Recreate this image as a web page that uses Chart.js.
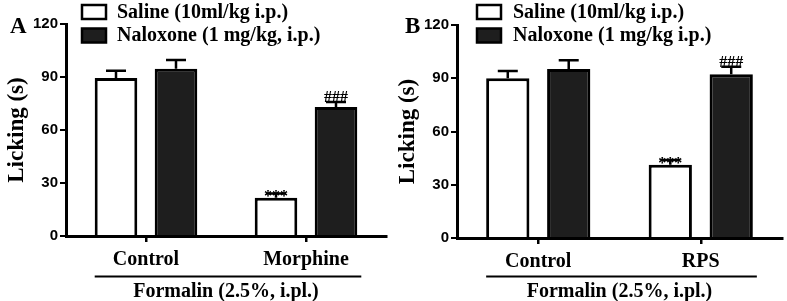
<!DOCTYPE html>
<html>
<head>
<meta charset="utf-8">
<script src="https://cdn.jsdelivr.net/npm/chart.js@4"></script>
<style>
body { margin: 0; background: #fff; width: 787px; height: 301px; overflow: hidden; position: relative; }
canvas { position: absolute; top: 0; }
</style>
</head>
<body>
<canvas id="chartA" width="393" height="301" style="left:0"></canvas>
<canvas id="chartB" width="396" height="301" style="left:391px"></canvas>
<script>
// values (licking time, s)
const yTicks = [0, 30, 60, 90, 120]

const categoriesA = ['Control', 'Morphine']
const salineA = [89.4, 21.7]
const salineErrA = [4.2, 2.4]
const naloxoneA = [94.7, 73.0]
const naloxoneErrA = [4.9, 2.8]
const salineMarksA = ['', '***']
const naloxoneMarksA = ['', '###']

const categoriesB = ['Control', 'RPS']
const salineB = [90.0, 41.2]
const salineErrB = [4.1, 2.8]
const naloxoneB = [95.2, 92.2]
const naloxoneErrB = [4.9, 4.3]
const salineMarksB = ['', '***']
const naloxoneMarksB = ['', '###']

const salineLabel = 'Saline (10ml/kg i.p.)'
const naloxoneLabelA = 'Naloxone (1 mg/kg, i.p.)'
const naloxoneLabelB = 'Naloxone (1 mg/kg i.p.)'
const xTitle = 'Formalin (2.5%, i.pl.)'
const yTitle = 'Licking (s)'

const serif = '"Liberation Serif", "Times New Roman", serif'
const sans = '"Liberation Sans", Arial, sans-serif'

const panelExtras = {
    id: 'panelExtras',
    afterDatasetsDraw(chart, args, opts) {
        const ctx = chart.ctx
        const y = chart.scales.y
        ctx.save()
        ctx.strokeStyle = '#000'
        ctx.fillStyle = '#000'
        // error bars + significance marks
        chart.data.datasets.forEach((ds, di) => {
            const meta = chart.getDatasetMeta(di)
            meta.data.forEach((bar, i) => {
                const top = y.getPixelForValue(ds.data[i] + ds.errors[i])
                ctx.lineWidth = 2.5
                ctx.beginPath()
                ctx.moveTo(bar.x, bar.y)
                ctx.lineTo(bar.x, top)
                ctx.moveTo(bar.x - 10, top)
                ctx.lineTo(bar.x + 10, top)
                ctx.stroke()
                if (ds.marks[i]) {
                    ctx.font = 'bold 16px ' + serif
                    ctx.textAlign = 'center'
                    ctx.textBaseline = 'alphabetic'
                    const off = ds.marks[i].startsWith('*') ? 8 : 0
                    ctx.fillText(ds.marks[i], bar.x, top + off)
                }
            })
        })
        // line under the groups
        const first = chart.getDatasetMeta(0).data[0]
        const lastMeta = chart.getDatasetMeta(chart.data.datasets.length - 1)
        const last = lastMeta.data[lastMeta.data.length - 1]
        ctx.lineWidth = 2
        ctx.beginPath()
        ctx.moveTo(first.x - first.width / 2, 276.5)
        ctx.lineTo(last.x + last.width / 2 + 4, 276.5)
        ctx.stroke()
        // legend
        ctx.font = 'bold 20px ' + serif
        ctx.textAlign = 'left'
        ctx.textBaseline = 'middle'
        chart.data.datasets.forEach((ds, di) => {
            const by = 5 + di * 23.5
            ctx.fillStyle = ds.backgroundColor
            ctx.fillRect(opts.boxX, by, 24, 14)
            ctx.lineWidth = 2.5
            ctx.strokeRect(opts.boxX, by, 24, 14)
            ctx.fillStyle = '#000'
            ctx.fillText(ds.label, opts.textX, by + 7.5)
        })
        // panel letter
        ctx.font = 'bold 23px ' + serif
        ctx.textBaseline = 'alphabetic'
        ctx.fillText(opts.letter, opts.letterX, 33)
        ctx.restore()
    }
}

function makePanel(id, categories, saline, salineErr, salineMarks, naloxone, naloxoneErr, naloxoneMarks, naloxoneLabel, geo) {
    return new Chart(document.getElementById(id), {
        type: 'bar',
        data: {
            labels: categories,
            datasets: [{
                label: salineLabel,
                data: saline,
                errors: salineErr,
                marks: salineMarks,
                backgroundColor: '#ffffff',
                borderColor: '#000000',
                borderWidth: 3,
                borderSkipped: 'bottom',
            }, {
                label: naloxoneLabel,
                data: naloxone,
                errors: naloxoneErr,
                marks: naloxoneMarks,
                backgroundColor: '#1e1e1e',
                borderColor: '#000000',
                borderWidth: 3,
                borderSkipped: 'bottom',
            }]
        },
        options: {
            responsive: false,
            animation: false,
            devicePixelRatio: 1,
            categoryPercentage: 0.75,
            barPercentage: 0.71,
            layout: { padding: { left: 0, top: geo.top, right: geo.right, bottom: 0 } },
            plugins: {
                legend: { display: false },
                tooltip: { enabled: false },
                panelExtras: geo.extras,
            },
            scales: {
                x: {
                    afterFit(scale) { scale.height = geo.xHeight },
                    grid: { drawOnChartArea: false, offset: false, color: '#000', lineWidth: 2.5, tickLength: 6 },
                    border: { color: '#000', width: 3 },
                    ticks: { color: '#000', padding: 6, font: { family: serif, size: 20, weight: 'bold' } },
                    title: {
                        display: true, text: xTitle, color: '#000',
                        padding: { top: 0, bottom: 0 },
                        font: { family: serif, size: 20, weight: 'bold', lineHeight: 0.9 }
                    }
                },
                y: {
                    min: 0,
                    max: 120,
                    afterFit(scale) { scale.width = 66 },
                    afterBuildTicks(scale) { scale.ticks = yTicks.map(v => ({ value: v })) },
                    grid: { drawOnChartArea: false, color: '#000', lineWidth: 2, tickLength: 6 },
                    border: { color: '#000', width: 3 },
                    ticks: { color: '#000', padding: 2, font: { family: sans, size: 15, weight: 'bold' } },
                    title: {
                        display: true, text: yTitle, color: '#000',
                        padding: { top: 3, bottom: 0 },
                        font: { family: serif, size: 23, weight: 'bold' }
                    }
                }
            }
        },
        plugins: [panelExtras]
    })
}

makePanel('chartA', categoriesA, salineA, salineErrA, salineMarksA, naloxoneA, naloxoneErrA, naloxoneMarksA, naloxoneLabelA,
    { top: 24, right: 7, xHeight: 65, extras: { letter: 'A', letterX: 10, boxX: 82, textX: 117 } })
makePanel('chartB', categoriesB, salineB, salineErrB, salineMarksB, naloxoneB, naloxoneErrB, naloxoneMarksB, naloxoneLabelB,
    { top: 25, right: 5, xHeight: 63, extras: { letter: 'B', letterX: 14, boxX: 86, textX: 122 } })
</script>
</body>
</html>
